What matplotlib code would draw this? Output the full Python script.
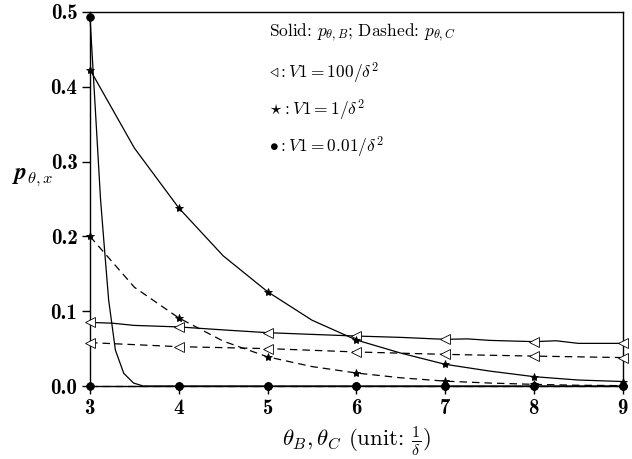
import numpy as np
import matplotlib.pyplot as plt

plt.rcParams['font.family'] = 'cmr10'
plt.rcParams['mathtext.fontset'] = 'cm'
plt.rcParams['axes.formatter.use_mathtext'] = True

# V1 = 100/delta^2 (triangles)
x_tri_b = [3, 3.25, 3.5, 4, 4.5, 5, 5.5, 6, 6.5, 7, 7.25, 7.5, 8, 8.25, 8.5, 9]
y_tri_b = [0.085, 0.084, 0.081, 0.079, 0.075, 0.0713, 0.069, 0.0668, 0.065, 0.0624, 0.063, 0.061, 0.0593, 0.0605, 0.057, 0.057]
x_tri_c = [3, 4, 5, 6, 7, 8, 9]
y_tri_c = [0.058, 0.0526, 0.050, 0.0455, 0.0423, 0.040, 0.038]

# V1 = 1/delta^2 (stars)
x_star = [3, 3.5, 4, 4.5, 5, 5.5, 6, 6.5, 7, 7.5, 8, 8.5, 9]
y_star_b = [0.423, 0.318, 0.238, 0.174, 0.126, 0.088, 0.0615, 0.044, 0.029, 0.020, 0.0125, 0.008, 0.006]
y_star_c = [0.200, 0.132, 0.091, 0.060, 0.039, 0.026, 0.0174, 0.011, 0.0065, 0.004, 0.0022, 0.001, 0.0005]

# V1 = 0.01/delta^2 (dots)
x_dot_b = [3, 3.119, 3.164, 3.21, 3.286, 3.38, 3.49, 3.6, 4, 5, 6, 7, 8, 9]
y_dot_b = [0.493, 0.249, 0.182, 0.115, 0.048, 0.017, 0.004, 0.0, 0, 0, 0, 0, 0, 0]
x_dot_c = [3, 4, 5, 6, 7, 8, 9]
y_dot_c = [0, 0, 0, 0, 0, 0, 0]

xticks = [3, 4, 5, 6, 7, 8, 9]
yticks = [0.0, 0.1, 0.2, 0.3, 0.4, 0.5]


def on_int(x):
    x = np.asarray(x, dtype=float)
    return np.isclose(x, np.round(x))


fig = plt.figure(figsize=(6.32, 4.59), dpi=100)
ax = fig.add_axes([0.1424, 0.159, 0.843, 0.815])

lw = 0.9
dash = (0, (6, 4))
series = [
    (x_tri_b, y_tri_b, '-', '<', 'white', 7),
    (x_tri_c, y_tri_c, dash, '<', 'white', 7),
    (x_star, y_star_b, '-', '*', 'black', 6),
    (x_star, y_star_c, dash, '*', 'black', 6),
    (x_dot_b, y_dot_b, '-', 'o', 'black', 5.5),
    (x_dot_c, y_dot_c, dash, 'o', 'black', 5.5),
]
for xs, ys, ls, mk, fc, ms in series:
    ax.plot(xs, ys, color='black', linestyle=ls, linewidth=lw,
            marker=mk, markersize=ms, markerfacecolor=fc,
            markeredgecolor='black', markeredgewidth=0.6,
            markevery=list(on_int(xs)), clip_on=False, zorder=3)

ax.set_xlim(3, 9)
ax.set_ylim(0, 0.5)
ax.set_xticks(xticks)
ax.set_yticks(yticks)
ax.set_yticklabels(['%.1f' % v for v in yticks])
ax.tick_params(direction='out', length=6, width=1, labelsize=15, pad=3)
for lab in ax.get_xticklabels() + ax.get_yticklabels():
    lab.set_fontfamily('cmb10')
for sp in ax.spines.values():
    sp.set_linewidth(1)

ax.set_xlabel(r'$\theta_B,\theta_C$ (unit: $\frac{1}{\delta}$)', fontsize=16.5, labelpad=5)
ax.set_ylabel(r'$\mathbfit{p}_{\theta,x}$', fontsize=17, rotation=0, va='center', ha='center')
ax.yaxis.set_label_coords(-0.108, 0.56)

tx = 0.336
fs = 12.5
ax.text(tx, 0.944, r'Solid: $p_{\theta,B}$; Dashed: $p_{\theta,C}$', transform=ax.transAxes, fontsize=fs, va='center')
ax.text(tx, 0.837, r'$\triangleleft: V1 = 100/\delta^2$', transform=ax.transAxes, fontsize=fs, va='center')
ax.text(tx, 0.738, r'$\star: V1 = 1/\delta^2$', transform=ax.transAxes, fontsize=fs, va='center')
ax.text(tx, 0.639, r'$\bullet: V1 = 0.01/\delta^2$', transform=ax.transAxes, fontsize=fs, va='center')

fig.savefig('out.png', dpi=100)
